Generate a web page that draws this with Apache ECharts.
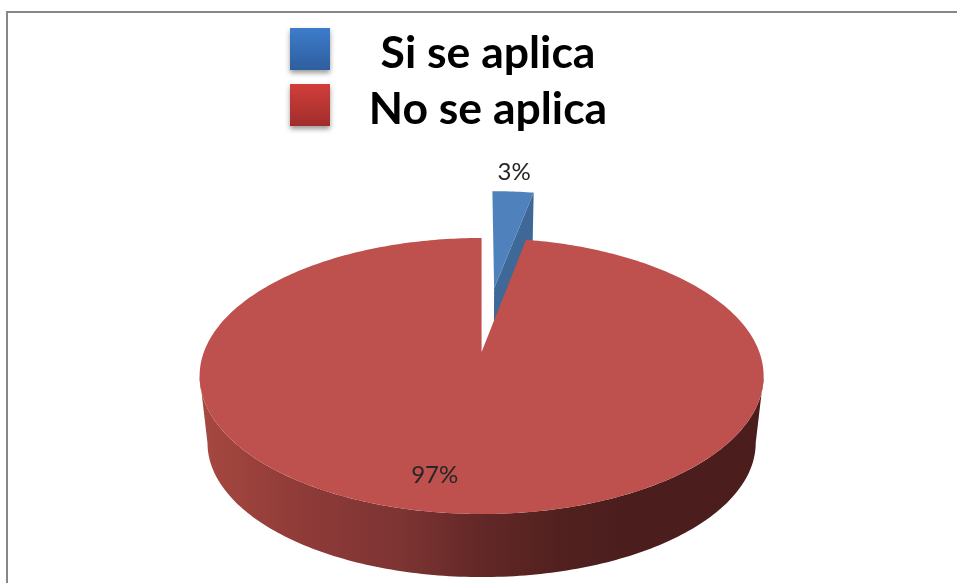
<!DOCTYPE html>
<html><head><meta charset="utf-8">
<style>html,body{margin:0;padding:0;background:#fff}#c{width:957px;height:583px}</style>
<script src="https://cdn.jsdelivr.net/npm/echarts@6/dist/echarts.min.js"></script>
</head><body><div id="c"></div>
<script>
const categories = ['Si se aplica', 'No se aplica'];
const values = [3, 97];
const explode = [0.522, 0];

const topColors = ['#4F81BD', '#BE504D'];
const wallColors = ['#3E6897', '#8C3A37'];
const labelPlace = [
  {r: 1, dx: 1, dy: -19},
  {r: 0.79, dx: -23, dy: 1}
];

// Perspective projection of the unit-circle pie plane onto the screen
const AX = 481.6, AY = 352, K = 277.7, C = 0.174, A = -72.6;
const BOTTOM_SCALE = 0.972, BOTTOM_AY = 419.6;
const FRONT_FROM = 100 * Math.PI / 180, FRONT_TO = 260 * Math.PI / 180;
function project(u, v, bottom) {
  const d = 1 + C * v;
  const x = K * u / d, y = (A * v + AY) / d;
  if (bottom) return [AX + BOTTOM_SCALE * x, BOTTOM_AY + BOTTOM_SCALE * (y - AY)];
  return [AX + x, y];
}
const total = values.reduce((a, b) => a + b, 0);
function sliceInfo(i) {
  let s = 0;
  for (let k = 0; k < i; k++) s += values[k];
  const a0 = s / total * Math.PI * 2, a1 = (s + values[i]) / total * Math.PI * 2;
  const mid = (a0 + a1) / 2;
  return {a0, a1, mid, ou: Math.sin(mid) * explode[i], ov: Math.cos(mid) * explode[i]};
}
function arc(info, from, to, bottom) {
  const pts = [], n = Math.max(8, Math.ceil((to - from) * 60));
  for (let j = 0; j <= n; j++) {
    const t = from + (to - from) * j / n;
    pts.push(project(info.ou + Math.sin(t), info.ov + Math.cos(t), bottom));
  }
  return pts;
}
const sideGradient = new echarts.graphic.LinearGradient(205, 0, 620, 0, [
  {offset: 0, color: '#A64740'},
  {offset: 0.23, color: '#8F3B38'},
  {offset: 0.47, color: '#7D3433'},
  {offset: 0.66, color: '#632827'},
  {offset: 0.85, color: '#52211F'},
  {offset: 1, color: '#4B1E1D'}
], true);

function renderSlice(i) {
  return function () {
    const info = sliceInfo(i);
    const topArc = arc(info, info.a0, info.a1, false);
    const apexT = project(info.ou, info.ov, false), apexB = project(info.ou, info.ov, true);
    const endT = topArc[topArc.length - 1];
    const endB = project(info.ou + Math.sin(info.a1), info.ov + Math.cos(info.a1), true);
    const p = project(info.ou + Math.sin(info.mid) * labelPlace[i].r,
                      info.ov + Math.cos(info.mid) * labelPlace[i].r, false);
    const children = [];
    const f0 = Math.max(info.a0, FRONT_FROM), f1 = Math.min(info.a1, FRONT_TO);
    if (f1 > f0) {
      children.push({type: 'polygon',
        shape: {points: arc(info, f0, f1, false).concat(arc(info, f0, f1, true).reverse())},
        style: {fill: sideGradient}});
    }
    children.push(
      {type: 'polygon', shape: {points: [apexT, endT, endB, apexB]}, style: {fill: wallColors[i]}},
      {type: 'polygon', shape: {points: [apexT].concat(topArc)}, style: {fill: topColors[i]}},
      {type: 'text', style: {
        x: p[0] + labelPlace[i].dx, y: p[1] + labelPlace[i].dy,
        text: Math.round(values[i] / total * 100) + '%',
        fill: '#262626', font: '24px Lato', align: 'center', verticalAlign: 'middle'}}
    );
    return {type: 'group', silent: true, children};
  };
}
function swatch(a, b) {
  return new echarts.graphic.LinearGradient(0, 0, 0, 1, [{offset: 0, color: a}, {offset: 1, color: b}]);
}
const swatches = [swatch('#3D7CCB', '#2E5E9E'), swatch('#D23E3B', '#A02D2B')];

const chart = echarts.init(document.getElementById('c'), null, {renderer: 'canvas'});
chart.setOption({
  animation: false,
  backgroundColor: '#fff',
  legend: {
    orient: 'vertical', left: 290, top: 21.5, padding: 0,
    itemWidth: 40, itemHeight: 42, itemGap: 1, icon: 'rect',
    selectedMode: false,
    data: categories.map((name, i) => ({
      name,
      itemStyle: {color: swatches[i], shadowBlur: 5, shadowOffsetY: 3, shadowColor: 'rgba(0,0,0,0.4)'}
    })),
    formatter: n => '{t|' + n + '}',
    textStyle: {rich: {t: {width: 306, align: 'center', fontFamily: 'Lato', fontWeight: 'bold', fontSize: 44.5, lineHeight: 30, padding: [10, 0, 0, 0], color: '#000'}}}
  },
  graphic: [{
    type: 'polyline', silent: true,
    shape: {points: [[7, 583], [7, 12], [957, 12]]},
    style: {stroke: '#878787', lineWidth: 2, fill: null}
  }],
  series: categories.map((name, i) => ({
    type: 'custom', name, coordinateSystem: 'none',
    data: [values[i]], renderItem: renderSlice(i),
    itemStyle: {color: topColors[i]}
  }))
});
</script></body></html>
